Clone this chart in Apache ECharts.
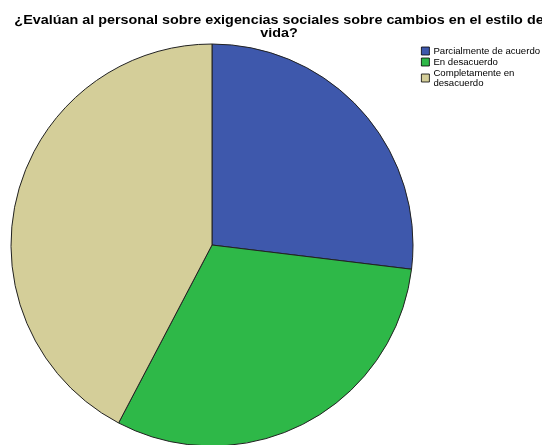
<!DOCTYPE html>
<html>
<head>
<meta charset="utf-8">
<script src="https://cdn.jsdelivr.net/npm/echarts@6/dist/echarts.min.js"></script>
<style>html,body{margin:0;padding:0;background:#fff}#c{width:542px;height:445px}</style>
</head>
<body>
<div id="c"></div>
<script>
const titleText = '¿Evalúan al personal sobre exigencias sociales sobre cambios en el estilo de\nvida?';
const categories = ['Parcialmente de acuerdo', 'En desacuerdo', 'Completamente en\ndesacuerdo'];
const values = [7, 8, 11];
const colors = ['#3e58ac', '#2eb848', '#d4ce99'];

const chart = echarts.init(document.getElementById('c'), null, {renderer: 'canvas'});
chart.setOption({
  animation: false,
  backgroundColor: '#ffffff',
  color: colors,
  graphic: [{
    type: 'text', x: 279, y: 14, scaleX: 1.064,
    style: {
      text: titleText, textAlign: 'center', textVerticalAlign: 'top',
      font: 'bold 13.5px "Liberation Sans", Arial, sans-serif', lineHeight: 13, fill: '#000'
    }
  }],
  legend: {
    orient: 'vertical', left: 421, top: 46, padding: 0,
    itemWidth: 8, itemHeight: 8, itemGap: 1,
    icon: 'rect',
    itemStyle: {borderColor: '#000', borderWidth: 0.8},
    textStyle: {fontFamily: '"Liberation Sans", Arial, sans-serif', fontSize: 9.6, lineHeight: 10, color: '#000', padding: [0,0,0,-1]},
    selectedMode: false,
    data: categories
  },
  series: [{
    type: 'pie',
    center: [212, 245],
    radius: 201,
    startAngle: 90,
    clockwise: true,
    label: {show: false},
    labelLine: {show: false},
    emphasis: {disabled: true},
    itemStyle: {borderColor: '#222', borderWidth: 1},
    data: categories.map((n, i) => ({name: n, value: values[i]}))
  }]
});
</script>
</body>
</html>
